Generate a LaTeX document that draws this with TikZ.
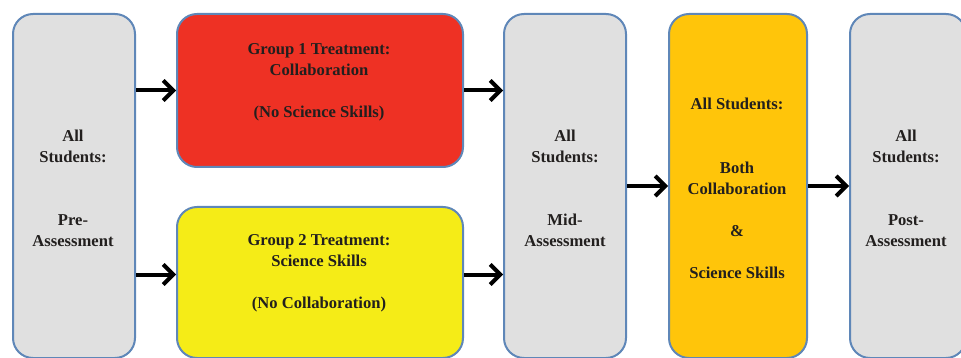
\documentclass[tikz,border=0pt]{standalone}
\usepackage{fontspec}
\setmainfont{Liberation Serif}
\usetikzlibrary{arrows.meta}
\definecolor{edgeblue}{HTML}{5F87B8}
\definecolor{panelgray}{HTML}{E0E0E0}
\definecolor{groupred}{HTML}{EE3124}
\definecolor{groupyellow}{HTML}{F5EC17}
\definecolor{allorange}{HTML}{FFC50A}
\definecolor{labelink}{HTML}{221F1E}
\begin{document}
\begin{tikzpicture}[x=1pt,y=-1pt,
  panel/.style={draw=edgeblue, line width=2pt, rounded corners=20pt,
    anchor=north west, inner sep=0pt},
  caption/.style={font=\bfseries\fontsize{16.6}{21}\selectfont, text=labelink,
    align=center, inner sep=0pt},
  flow/.style={line width=4pt, -{Straight Barb[length=10pt, width=20pt, line width=4pt]}}]
\useasboundingbox (0,0) rectangle (961,358);

% boxes of the study sequence
\node[panel, fill=panelgray,   minimum width=122pt, minimum height=344pt] (pre)  at (12,13)  {};
\node[panel, fill=groupred,    minimum width=286pt, minimum height=153pt] (g1)   at (176,13) {};
\node[panel, fill=groupyellow, minimum width=286pt, minimum height=151pt] (g2)   at (176,206) {};
\node[panel, fill=panelgray,   minimum width=122pt, minimum height=344pt] (mid)  at (503,13) {};
\node[panel, fill=allorange,   minimum width=138pt, minimum height=344pt] (both) at (668,13) {};
\node[panel, fill=panelgray,   minimum width=116pt, minimum height=344pt] (post) at (849,13) {};

% box texts
\node[caption] (tpre)  at (73,188)  {All\\Students:\\[42pt]Pre-\\Assessment};
\node[caption] (tg1)   at (319,82)  {Group 1 Treatment:\\Collaboration\\[21pt](No Science Skills)};
\node[caption] (tg2)   at (319,273) {Group 2 Treatment:\\Science Skills\\[21pt](No Collaboration)};
\node[caption] (tmid)  at (565,188) {All\\Students:\\[42pt]Mid-\\Assessment};
\node[caption] (tboth) at (737,188) {All Students:\\[43pt]Both\\Collaboration\\[21pt]\&\\[21pt]Science Skills};
\node[caption] (tpost) at (906,188) {All\\Students:\\[42pt]Post-\\Assessment};

% arrows between the stages
\draw[flow] (g1.west -| pre.east) -- (g1.west);
\draw[flow] ([yshift=8pt]g2.west -| pre.east) -- ([yshift=8pt]g2.west);
\draw[flow] (g1.east) -- (g1.east -| mid.west);
\draw[flow] ([yshift=8pt]g2.east) -- ([yshift=8pt]g2.east -| mid.west);
\draw[flow] (mid.east) -- (mid.east -| both.west);
\draw[flow] (both.east) -- (both.east -| post.west);
\end{tikzpicture}
\end{document}
